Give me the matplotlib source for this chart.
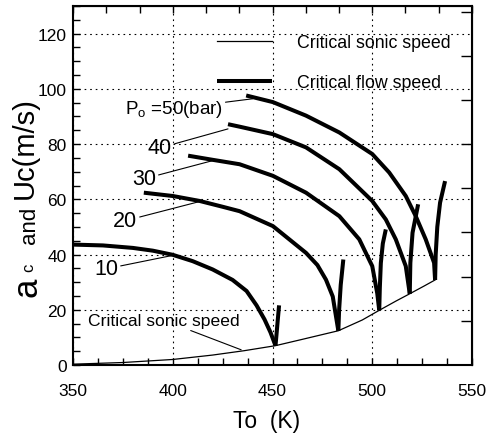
import numpy as np
import matplotlib
matplotlib.use("Agg")
import matplotlib.pyplot as plt
from matplotlib.ticker import MultipleLocator, FixedLocator, NullFormatter

plt.rcParams["font.family"] = ["Liberation Sans", "DejaVu Sans"]
plt.rcParams["mathtext.fontset"] = "custom"
plt.rcParams["mathtext.rm"] = "Liberation Sans"
plt.rcParams["mathtext.it"] = "Liberation Sans:italic"

# ---- critical flow speed u_c (m/s) vs stagnation temperature T0 (K) ----
# P0 = 10 bar
t10_fall = [350, 365, 380, 390, 400, 410, 420, 430, 437, 442, 446, 449, 451.5]
u10_fall = [43.6, 43.3, 42.4, 41.4, 39.9, 37.6, 34.6, 30.8, 26.8, 21.6, 16.5, 11.8, 7.0]
t10_rise = [451.5, 452.0, 452.6, 453.3]
u10_rise = [7.0, 11.0, 16.0, 21.6]

# P0 = 20 bar
t20_fall = [385.5, 400, 413.5, 425, 433.5, 450.2, 466.8, 472.5, 476.8, 480.2, 483]
u20_fall = [62.4, 61.2, 59.4, 57.3, 55.7, 50.3, 40.6, 36.2, 30.9, 24.8, 12.4]
t20_rise = [483, 483.4, 484.2, 485.5]
u20_rise = [12.4, 20.0, 29.0, 38.2]

# P0 = 30 bar
t30_fall = [407.7, 420, 433.5, 450.2, 466.8, 483.5, 493.5, 500, 502.5, 503.5]
u30_fall = [75.8, 74.3, 72.7, 68.5, 62.4, 53.9, 45.5, 35.8, 26.0, 19.8]
t30_rise = [503.5, 503.8, 504.3, 505.3, 506.8]
u30_rise = [19.8, 28.0, 36.9, 44.0, 49.1]

# P0 = 40 bar
t40_fall = [427.7, 433.5, 450.2, 466.8, 483.5, 500, 506.8, 511.8, 516.8, 518.8]
u40_fall = [87.2, 86.3, 83.6, 78.8, 70.9, 59.4, 52.7, 45.5, 35.8, 25.8]
t40_rise = [518.8, 519.1, 520.2, 523.0]
u40_rise = [25.8, 37.0, 47.9, 58.2]

# P0 = 50 bar
t50_fall = [436.8, 450.2, 466.8, 483.5, 500, 508.5, 516.8, 521.8, 526.8, 531.0, 531.5]
u50_fall = [97.6, 95.2, 90.3, 84.2, 76.4, 69.7, 61.2, 53.9, 45.5, 37.0, 30.8]
t50_rise = [531.5, 531.8, 532.6, 534.0, 536.5]
u50_rise = [30.8, 40.0, 50.0, 58.8, 66.6]

# ---- critical sonic speed a_c (m/s) ----
t_sonic = [350, 375, 400, 420, 436, 451.5, 465, 483, 495, 503.5, 512, 518.8, 526, 531.5]
a_sonic = [0.3, 0.9, 2.0, 3.6, 5.2, 7.0, 9.3, 12.4, 16.3, 19.8, 23.2, 25.8, 28.6, 30.8]

flow_branches = [
    (t10_fall, u10_fall), (t10_rise, u10_rise),
    (t20_fall, u20_fall), (t20_rise, u20_rise),
    (t30_fall, u30_fall), (t30_rise, u30_rise),
    (t40_fall, u40_fall), (t40_rise, u40_rise),
    (t50_fall, u50_fall), (t50_rise, u50_rise),
]

# pressure labels: (text, label position, point on curve)
pressure_labels = [
    ("P$_\\mathrm{o}$ =50(bar)", (400.5, 92.8), (440.0, 96.4)),
    ("40", (393.5, 78.6), (427.7, 85.5)),
    ("30", (385.5, 67.4), (421.0, 74.2)),
    ("20", (376.0, 52.2), (413.5, 59.2)),
    ("10", (366.5, 34.8), (400.0, 39.7)),
]

W, H = 491, 435
fig = plt.figure(figsize=(W / 100, H / 100), dpi=100)
ax = fig.add_axes([73 / W, 69 / H, 399 / W, 359 / H])

ax.set_xlim(350, 550)
ax.set_ylim(0, 130)

flow_lines = []
for t, u in flow_branches:
    (ln,) = ax.plot(t, u, color="black", lw=2.9, solid_capstyle="butt",
                    solid_joinstyle="round", zorder=3)
    flow_lines.append(ln)
(sonic_line,) = ax.plot(t_sonic, a_sonic, color="black", lw=0.9, zorder=3)

# axes, ticks and grid
ax.xaxis.set_major_locator(MultipleLocator(50))
ax.xaxis.set_minor_locator(MultipleLocator(12.5))
ax.yaxis.set_major_locator(MultipleLocator(20))
ax.yaxis.set_minor_locator(MultipleLocator(5))
ax.tick_params(which="both", direction="in", width=1.0, labelsize=12.5, length=5)
ax.tick_params(axis="x", which="major", pad=13)
ax.tick_params(axis="y", which="major", pad=4.5)
for s in ax.spines.values():
    s.set_linewidth(1.5)
ax.grid(True, which="major", color="black", lw=0.8, linestyle=(0, (1.5, 3.5)))

top = ax.secondary_xaxis("top")
top.xaxis.set_major_locator(MultipleLocator(50 / 3))
top.xaxis.set_major_formatter(NullFormatter())
top.tick_params(direction="in", length=5, width=1.0)
right = ax.secondary_yaxis("right")
right.yaxis.set_major_locator(FixedLocator([16, 32, 48, 64, 80, 96, 112, 128]))
right.yaxis.set_major_formatter(NullFormatter())
right.tick_params(direction="in", length=8, width=1.0)

# axis titles
ax.set_xlabel("To  (K)", fontsize=16.5, labelpad=8)
ax.xaxis.label.set_x((267 - 73) / 399)


def ypix(y):
    return (H - y) / H


def xpix(x):
    return x / W


ylabel_parts = [
    ("a", 25, 37, 297),
    ("c", 12, 33, 272),
    ("and", 16, 35, 244),
    ("Uc(m/s)", 21, 33, 199),
]
for txt, size, xb, yb in ylabel_parts:
    fig.text(xpix(xb), ypix(yb), txt, fontsize=size, rotation=90,
             rotation_mode="anchor", ha="left", va="baseline")

# pressure labels with leader lines
for txt, pos, target in pressure_labels:
    fs = 13.5 if "bar" in txt else 15.5
    ax.annotate(txt, xy=target, xytext=pos, fontsize=fs, ha="center",
                va="center",
                arrowprops=dict(arrowstyle="-", lw=0.8, color="black",
                                shrinkA=0, shrinkB=0))

ax.annotate("Critical sonic speed", xy=(434.3, 5.5), xytext=(395.5, 16.2),
            fontsize=12.6, ha="center", va="center",
            arrowprops=dict(arrowstyle="-", lw=0.8, color="black",
                            shrinkA=0, shrinkB=0))

fig.legend([sonic_line, flow_lines[0]],
           ["Critical sonic speed", "Critical flow speed"],
           loc="center left", bbox_to_anchor=(217 / W, ypix(63.5)),
           frameon=False, fontsize=12.8, handlelength=3.1,
           handletextpad=1.4, labelspacing=1.3, borderpad=0,
           borderaxespad=0)

fig.savefig("out.png", dpi=100)
